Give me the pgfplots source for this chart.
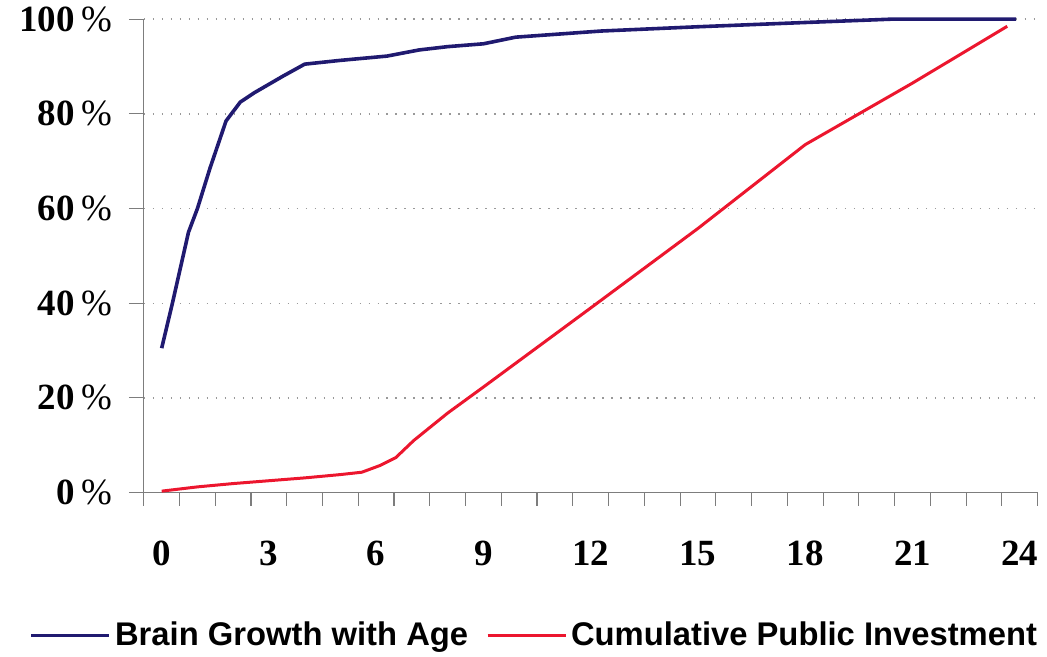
\documentclass[border=0pt]{standalone}
\usepackage{pgfplots}
\pgfplotsset{compat=1.18}
\usepackage{fontspec}
\setmainfont{Liberation Serif}
\setsansfont{Liberation Sans}

\definecolor{brainblue}{RGB}{32,26,112}
\definecolor{investred}{RGB}{236,22,46}
\definecolor{axisgray}{RGB}{125,125,125}

\begin{document}
\begin{tikzpicture}
\begin{axis}[
    name=ax,
    scale only axis,
    width=447.5pt, height=237pt,
    xmin=-0.5, xmax=24.5,
    ymin=0, ymax=100,
    axis lines=left,
    axis line style={-, axisgray, line width=0.6pt},
    tick align=outside,
    tick style={axisgray, line width=0.6pt},
    xtick={0,3,...,24},
    major x tick style={draw=none},
    minor xtick={-0.5,0.5,...,24.5},
    minor tick length=6.5pt,
    major tick length=7.5pt,
    ytick={0,20,...,100},
    yticklabel={\pgfmathprintnumber{\tick}\,{\mdseries\%}},
    /pgf/number format/assume math mode=true,
    ticklabel style={font=\fontsize{18.5}{20}\selectfont\bfseries},
    xticklabel style={anchor=north, yshift=-13pt, text height=12.5pt, text depth=0pt},
    yticklabel style={xshift=-5pt},
    ymajorgrids,
    major grid style={gray!80, line width=0.7pt, dash pattern=on 0.7pt off 3.8pt},
    clip=false,
    legend columns=2,
    legend style={
        at={(0.438,-0.302)}, anchor=center, draw=none, fill=none,
        font=\fontsize{16.4}{18}\selectfont\sffamily\bfseries,
        /tikz/every even column/.append style={column sep=7pt},
        nodes={inner xsep=2pt},
    },
    legend image code/.code={\draw[#1] (0pt,0pt) -- (39pt,0pt);},
]
% brain growth with age (share of adult size)
\addplot[brainblue, line width=1.8pt] coordinates {
    (0,30.5) (0.3,40) (0.75,55) (1,60) (1.35,68.5) (1.8,78.5) (2.2,82.5)
    (2.6,84.5) (3.4,88) (4,90.5) (5,91.3) (6.3,92.2) (7.2,93.5) (8,94.2)
    (9,94.8) (9.9,96.2) (12.3,97.5) (15,98.4) (18,99.3) (20.4,100) (23.9,100)
};
\addlegendentry{Brain Growth with Age}
% cumulative public investment
\addplot[investred, line width=1.5pt] coordinates {
    (0,0.3) (1,1.2) (2,1.9) (3,2.5) (4,3.1) (5,3.8) (5.6,4.3) (6.1,5.7)
    (6.55,7.4) (7.05,11) (8,16.8) (9,22.3) (12,39) (15,55.8) (18,73.5)
    (21,86.5) (23.65,98.5)
};
\addlegendentry{Cumulative Public Investment}
\end{axis}
\path (ax.south west) ++(-72pt,-82pt) rectangle ++(523.5pt,328pt);
\end{tikzpicture}
\end{document}
